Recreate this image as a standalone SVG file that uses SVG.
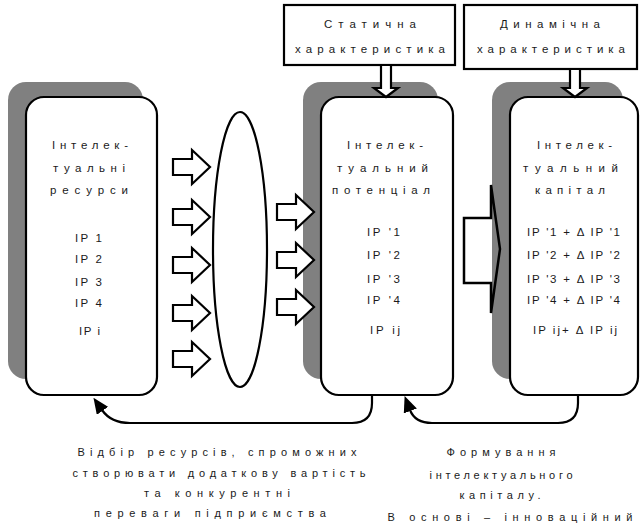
<svg xmlns="http://www.w3.org/2000/svg" xmlns:xlink="http://www.w3.org/1999/xlink" width="640" height="525" viewBox="0 0 640 525">
  <style>
    .shadow { fill: #808080; }
    .box { fill: #ffffff; stroke: #000000; stroke-width: 2.2; }
    .tbox { fill: #ffffff; stroke: #000000; stroke-width: 2.2; }
    .t { font-family: "Liberation Sans", Arial, sans-serif; font-size: 11.5px; fill: #1a1a1a; text-anchor: middle; }
    .tb { font-family: "Liberation Sans", Arial, sans-serif; font-size: 11px; fill: #1a1a1a; text-anchor: middle; }
    .harrow { fill: #ffffff; stroke: #000000; stroke-width: 2.2; stroke-linejoin: miter; }
    .big { fill: none; stroke: #000000; stroke-width: 2.5; stroke-linejoin: miter; }
    .fb { fill: none; stroke: #000000; stroke-width: 2.2; }
  </style>
  <defs>
    <filter id="soft" x="-5%" y="-5%" width="110%" height="110%">
      <feGaussianBlur stdDeviation="0.5"/>
    </filter>
    <path id="hollow" d="M0,-8 H19 V-17 L37,0 L19,17 V8 H0 Z"/>
    <marker id="head" viewBox="0 0 16 14" refX="1" refY="7" markerWidth="16" markerHeight="14" markerUnits="userSpaceOnUse" orient="auto">
      <path d="M0,0 L16,7 L0,14 Z" fill="#000000"/>
    </marker>
  </defs>

  <!-- top characteristic boxes -->
  <g id="static">
    <rect class="tbox" x="284" y="5" width="171" height="60"/>
    <text class="t" x="370" y="28" font-size="12" textLength="92">Статична</text>
    <text class="t" x="370" y="53" font-size="12" textLength="150">характеристика</text>
  </g>
  <g id="dynamic">
    <rect class="tbox" x="464" y="5" width="173" height="64"/>
    <text class="t" x="550" y="28" font-size="12" textLength="100">Динамічна</text>
    <text class="t" x="551" y="53" font-size="12" textLength="148">характеристика</text>
  </g>

  <!-- left box: intellectual resources -->
  <g id="resources">
    <rect class="shadow" x="8" y="82" width="135" height="297" rx="18" filter="url(#soft)"/>
    <rect class="box" x="26" y="97" width="131" height="298" rx="18"/>
    <text class="t" x="90" y="149" textLength="76">Інтелек-</text>
    <text class="t" x="89" y="172" textLength="72">туальні</text>
    <text class="t" x="89" y="194" textLength="78">ресурси</text>
    <text class="t" x="88.5" y="242" textLength="27">IP 1</text>
    <text class="t" x="88.5" y="263" textLength="27">IP 2</text>
    <text class="t" x="88.5" y="286" textLength="27">IP 3</text>
    <text class="t" x="88.5" y="307" textLength="27">IP 4</text>
    <text class="t" x="89.5" y="335" textLength="21">IP i</text>
  </g>

  <!-- selection ellipse -->
  <g id="selection">
    <ellipse cx="240" cy="249.5" rx="27" ry="137.5" fill="#ffffff" stroke="#000000" stroke-width="2.2"/>
  </g>

  <!-- middle box: intellectual potential -->
  <g id="potential">
    <rect class="shadow" x="303" y="82" width="135" height="297" rx="18" filter="url(#soft)"/>
    <rect class="box" x="321" y="97" width="132" height="298" rx="18"/>
    <text class="t" x="385" y="149" textLength="76">Інтелек-</text>
    <text class="t" x="382.5" y="172" textLength="91">туальний</text>
    <text class="t" x="381" y="194" textLength="98">потенціал</text>
    <text class="t" x="383.5" y="236" textLength="33">IP '1</text>
    <text class="t" x="383.5" y="259" textLength="33">IP '2</text>
    <text class="t" x="383.5" y="283" textLength="33">IP '3</text>
    <text class="t" x="383.5" y="304" textLength="33">IP '4</text>
    <text class="t" x="385" y="334" textLength="30">IP ij</text>
  </g>

  <!-- right box: intellectual capital -->
  <g id="capital">
    <rect class="shadow" x="492" y="82" width="131" height="297" rx="18" filter="url(#soft)"/>
    <rect class="box" x="510" y="97" width="128" height="298" rx="18"/>
    <text class="t" x="574.5" y="149" textLength="75">Інтелек-</text>
    <text class="t" x="570.5" y="172" textLength="95">туальний</text>
    <text class="t" x="570" y="194" textLength="70">капітал</text>
    <text class="t" x="573.5" y="236" textLength="93">IP '1 + Δ IP '1</text>
    <text class="t" x="573.5" y="259" textLength="93">IP '2 + Δ IP '2</text>
    <text class="t" x="573.5" y="283" textLength="93">IP '3 + Δ IP '3</text>
    <text class="t" x="573.5" y="304" textLength="93">IP '4 + Δ IP '4</text>
    <text class="t" x="575" y="334" textLength="84">IP ij+ Δ IP ij</text>
  </g>

  <!-- connectors -->
  <g id="connectors">
    <!-- resources to selection -->
    <use xlink:href="#hollow" class="harrow" transform="translate(173,167)"/>
    <use xlink:href="#hollow" class="harrow" transform="translate(173,217)"/>
    <use xlink:href="#hollow" class="harrow" transform="translate(173,265)"/>
    <use xlink:href="#hollow" class="harrow" transform="translate(173,313)"/>
    <use xlink:href="#hollow" class="harrow" transform="translate(173,359)"/>
    <!-- selection to potential -->
    <use xlink:href="#hollow" class="harrow" transform="translate(277,212)"/>
    <use xlink:href="#hollow" class="harrow" transform="translate(277,260)"/>
    <use xlink:href="#hollow" class="harrow" transform="translate(277,307)"/>
    <!-- characteristic arrows down -->
    <path class="harrow" d="M381,65 H391 V88 H398 L386,97 L374,88 H381 Z"/>
    <path class="harrow" d="M570,69 H580 V88 H587 L575,97 L563,88 H570 Z"/>
    <!-- potential to capital -->
    <path class="big" d="M464,218 H491 V185 L500,249 L491,313 V283 H464 Z"/>
    <!-- feedback curves -->
    <path class="fb" d="M372,395 V403 Q372,423 352,423 H130 Q111,423 102,410" marker-end="url(#head)"/>
    <path class="fb" d="M578,395 V403 Q578,423 558,423 H432 Q415,423 410,410" marker-end="url(#head)"/>
  </g>

  <!-- captions -->
  <g id="caption-left">
    <text class="tb" x="217" y="456" textLength="279">Відбір ресурсів, спроможних</text>
    <text class="tb" x="219" y="477" textLength="293">створювати додаткову вартість</text>
    <text class="tb" x="217" y="497" textLength="146">та конкурентні</text>
    <text class="tb" x="210" y="517" textLength="232">переваги підприємства</text>
  </g>
  <g id="caption-right">
    <text class="tb" x="501" y="456" textLength="109">Формування</text>
    <text class="tb" x="501" y="479" textLength="143">інтелектуального</text>
    <text class="tb" x="500" y="499" textLength="81">капіталу.</text>
    <text class="tb" x="510" y="521" textLength="245">В основі – інноваційний</text>
  </g>
</svg>
